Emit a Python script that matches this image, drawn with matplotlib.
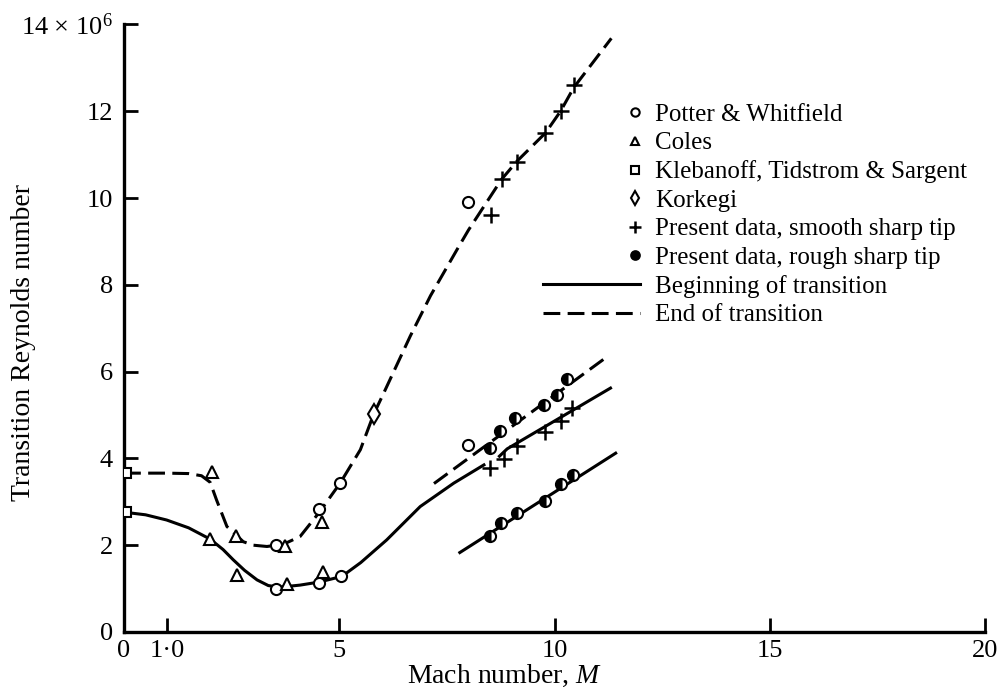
import numpy as np
import matplotlib.pyplot as plt
from matplotlib.legend_handler import HandlerLine2D
from matplotlib.lines import Line2D

plt.rcParams['font.family'] = ['Liberation Serif', 'DejaVu Serif']
plt.rcParams['mathtext.fontset'] = 'custom'
plt.rcParams['mathtext.rm'] = 'Liberation Serif'
plt.rcParams['mathtext.it'] = 'Liberation Serif:italic'

# measured points (Mach number, Re x 1e-6)
potter_x = [3.53, 3.53, 4.53, 4.53, 5.02, 5.04, 8.0, 8.0]
potter_y = [2.0, 0.99, 2.83, 1.13, 3.43, 1.29, 9.9, 4.3]

coles_x = [2.04, 2.0, 2.6, 2.62, 3.74, 3.78, 4.6, 4.62]
coles_y = [3.69, 2.14, 2.2, 1.31, 1.97, 1.1, 2.54, 1.39]

kleb_x = [0.05, 0.05]
kleb_y = [3.66, 2.76]

korkegi_x = [5.8]
korkegi_y = [5.02]

smooth_x = [8.53, 8.77, 9.13, 9.79, 10.14, 10.45,
            8.51, 8.82, 9.13, 9.77, 10.14, 10.41]
smooth_y = [9.6, 10.43, 10.83, 11.5, 12.0, 12.6,
            3.78, 3.99, 4.28, 4.61, 4.86, 5.16]

rough_x = [8.49, 8.74, 9.09, 9.75, 10.06, 10.3,
           8.51, 8.76, 9.13, 9.77, 10.14, 10.43]
rough_y = [4.24, 4.64, 4.93, 5.23, 5.47, 5.82,
           2.2, 2.51, 2.74, 3.01, 3.41, 3.62]

# faired curves
end_x = [0.0, 0.5, 1.0, 1.5, 1.8, 2.0, 2.15, 2.39, 2.77, 3.0, 3.32, 3.7, 4.09,
         4.53, 5.02, 5.49, 5.8, 6.03, 6.65, 7.12, 7.74, 8.0, 8.77, 9.13, 9.79,
         10.14, 10.45, 11.32]
end_y = [3.66, 3.66, 3.66, 3.65, 3.6, 3.45, 3.04, 2.43, 2.08, 2.0, 1.97, 2.02, 2.2,
         2.75, 3.43, 4.2, 5.02, 5.5, 6.82, 7.75, 8.82, 9.26, 10.43, 10.85, 11.5,
         12.0, 12.55, 13.68]

begin_x = [0.0, 0.5, 0.99, 1.5, 2.0, 2.3, 2.54, 2.8, 3.09, 3.35, 3.6, 4.09, 4.53,
           5.06, 5.5, 6.1, 6.88, 7.66, 8.36]
begin_y = [2.76, 2.7, 2.58, 2.4, 2.14, 1.9, 1.66, 1.42, 1.2, 1.07, 1.03, 1.08, 1.15,
           1.28, 1.6, 2.12, 2.89, 3.43, 3.85]

begin_hi_x = [8.72, 8.9, 11.3]
begin_hi_y = [4.05, 4.22, 5.62]

rough_end_x = [7.2, 11.19]
rough_end_y = [3.42, 6.32]

rough_begin_x = [7.8, 11.42]
rough_begin_y = [1.83, 4.12]

xticks = [0, 1, 5, 10, 15, 20]
xticklabels = ['0', '1·0', '5', '10', '15', '20']
yticks = [0, 2, 4, 6, 8, 10, 12, 14]
yticklabels = ['0', '2', '4', '6', '8', '10', '12', r'14 $\times$ 10$^6$']

LW = 2.2
DASH = (0, (5.5, 2.4))


class RightMarkerHandler(HandlerLine2D):
    # puts marker-only keys at the right end of the handle box
    def create_artists(self, legend, orig_handle, xdescent, ydescent,
                       width, height, fontsize, trans):
        arts = super().create_artists(legend, orig_handle, xdescent, ydescent,
                                      width, height, fontsize, trans)
        if orig_handle.get_linestyle() in ('None', '', ' '):
            for a in arts:
                n = len(a.get_xdata())
                a.set_xdata(np.full(n, width - xdescent - 0.2 * fontsize))
        return arts


fig = plt.figure(figsize=(9.97, 6.9), dpi=100)
ax = fig.add_axes([0.1244, 0.0841, 0.8636, 0.8805])

ax.plot(end_x, end_y, color='black', lw=LW, linestyle=DASH, zorder=2)
ax.plot(begin_x, begin_y, color='black', lw=LW, zorder=2)
ax.plot(begin_hi_x, begin_hi_y, color='black', lw=LW, zorder=2)
ax.plot(rough_end_x, rough_end_y, color='black', lw=LW, linestyle=DASH, zorder=2)
ax.plot(rough_begin_x, rough_begin_y, color='black', lw=LW, zorder=2)

mk = dict(linestyle='None', markeredgecolor='black', markerfacecolor='white',
          markeredgewidth=1.5, zorder=3)
ax.plot(potter_x, potter_y, marker='o', markersize=8, **mk)
ax.plot(coles_x, coles_y, marker='^', markersize=8.5, **mk)
ax.plot(kleb_x, kleb_y, marker='s', markersize=7.5, **mk)
ax.plot(korkegi_x, korkegi_y, marker='d', markersize=10, **mk)
ax.plot(smooth_x, smooth_y, marker='+', markersize=12, linestyle='None',
        color='black', markeredgewidth=1.8, zorder=3)
ax.plot(rough_x, rough_y, marker='o', markersize=8, linestyle='None',
        markeredgecolor='black', markerfacecolor='black', fillstyle='left',
        markerfacecoloralt='white', markeredgewidth=1.5, zorder=3)

ax.set_xlim(0, 20)
ax.set_ylim(0, 14)
ax.set_xticks(xticks)
ax.set_xticklabels(xticklabels)
ax.set_yticks(yticks)
ax.set_yticklabels(yticklabels)
ax.tick_params(axis='both', direction='in', length=10, width=2, labelsize=19,
               colors='black')
ax.tick_params(axis='x', pad=6)
ax.tick_params(axis='y', pad=8)

for side in ('top', 'right'):
    ax.spines[side].set_visible(False)
for side in ('left', 'bottom'):
    ax.spines[side].set_linewidth(2.4)

ax.set_xlabel(r'Mach number, $\mathit{M}$', fontsize=20)
ax.xaxis.set_label_coords(0.4425, -0.073)
ax.xaxis.label.set_va('center')
ax.set_ylabel('Transition Reynolds number', fontsize=20)
ax.yaxis.set_label_coords(-0.117, 0.477)
ax.yaxis.label.set_va('center')

lk = dict(markeredgecolor='black', markerfacecolor='white', markeredgewidth=1.5,
          linestyle='None')
handles = [
    Line2D([], [], marker='o', markersize=6, **lk),
    Line2D([], [], marker='^', markersize=6, **lk),
    Line2D([], [], marker='s', markersize=6, **lk),
    Line2D([], [], marker='d', markersize=7, **lk),
    Line2D([], [], marker='+', markersize=9, linestyle='None', color='black',
           markeredgewidth=1.8),
    Line2D([], [], marker='o', markersize=6.5, linestyle='None', color='black',
           markerfacecolor='black', markeredgewidth=1.2),
    Line2D([], [], color='black', lw=LW),
    Line2D([], [], color='black', lw=LW, linestyle=DASH),
]
labels = ['Potter & Whitfield', 'Coles', 'Klebanoff, Tidstrom & Sargent',
          'Korkegi', 'Present data, smooth sharp tip',
          'Present data, rough sharp tip', 'Beginning of transition',
          'End of transition']
leg = ax.legend(handles, labels, loc='upper left', bbox_to_anchor=(0.4866, 0.870),
                frameon=False, fontsize=18, handlelength=3.9,
                handletextpad=0.6, labelspacing=0.24, borderaxespad=0,
                borderpad=0, handler_map={Line2D: RightMarkerHandler()})

fig.savefig('out.png', dpi=100)
